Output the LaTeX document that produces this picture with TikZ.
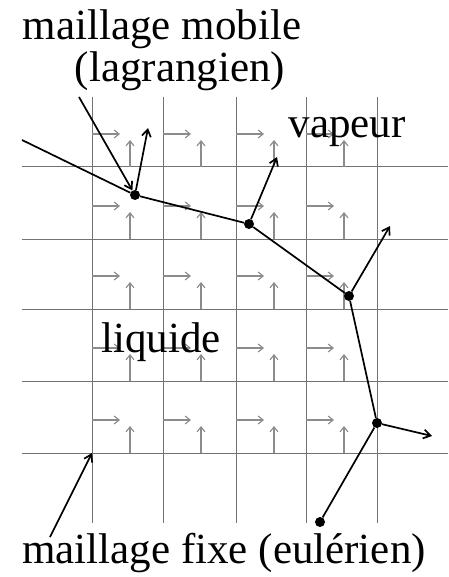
\documentclass[tikz,border=0pt]{standalone}
\usepackage{fontspec}
\setmainfont{Liberation Serif}
\usetikzlibrary{arrows.meta}
\begin{document}
\begin{tikzpicture}[x=1pt,y=-1pt,
  gridline/.style={draw=black!55, line width=1pt},
  flow/.style={draw=black!45, line width=1.1pt, -{Straight Barb[length=5pt,width=8pt]}},
  iface/.style={line width=1.7pt, black},
  normal/.style={line width=1.7pt, black, -{Straight Barb[length=7pt,width=9pt]}},
  dot/.style={circle, fill=black, inner sep=0pt, minimum size=10pt},
  lbl/.style={inner sep=0pt, anchor=base, font=\fontsize{43}{50}\selectfont}]
\useasboundingbox (0,0) rectangle (448,577);
% fixed grid
\foreach \X in {92,163,236,306,377} \draw[gridline] (\X,97) -- (\X,523);
\foreach \Y in {167,239,309,381,453} \draw[gridline] (22,\Y) -- (448,\Y);
% eulerian velocity arrows
\foreach \X in {92,163,236,306} {
  \foreach \Y in {167,239,309,381,453} {
    \draw[flow] (\X,\Y-33) -- (\X+28,\Y-33);
    \draw[flow] (\X+38,\Y) -- (\X+38,\Y-27);
  }
}
% lagrangian interface
\coordinate (P0) at (22,140);
\node[dot] (A) at (135,195) {};
\node[dot] (B) at (249,224) {};
\node[dot] (C) at (349,296) {};
\node[dot] (D) at (377,423) {};
\node[dot] (E) at (320,522) {};
\draw[iface] (P0) -- (A) -- (B) -- (C) -- (D) -- (E);
% normals
\coordinate (nA) at (148,128);
\coordinate (nB) at (277,157);
\coordinate (nC) at (390,226);
\coordinate (nD) at (432,436);
\draw[normal] (A) -- (nA);
\draw[normal] (B) -- (nB);
\draw[normal] (C) -- (nC);
\draw[normal] (D) -- (nD);
% labels
\node[lbl] (t1) at (162,40) {maillage mobile};
\node[lbl] (t2) at (180,82) {(lagrangien)};
\node[lbl] (tv) at (347,138) {vapeur};
\node[lbl] (tl) at (161,352) {liquide};
\node[lbl] (tf) at (224,563) {maillage fixe (eulérien)};
% pointers
\coordinate (s1) at (79,97);
\coordinate (s2) at (50,537);
\coordinate (g0) at (92,453);
\draw[normal] (s1) -- (A);
\draw[normal] (s2) -- (g0);
\end{tikzpicture}
\end{document}
